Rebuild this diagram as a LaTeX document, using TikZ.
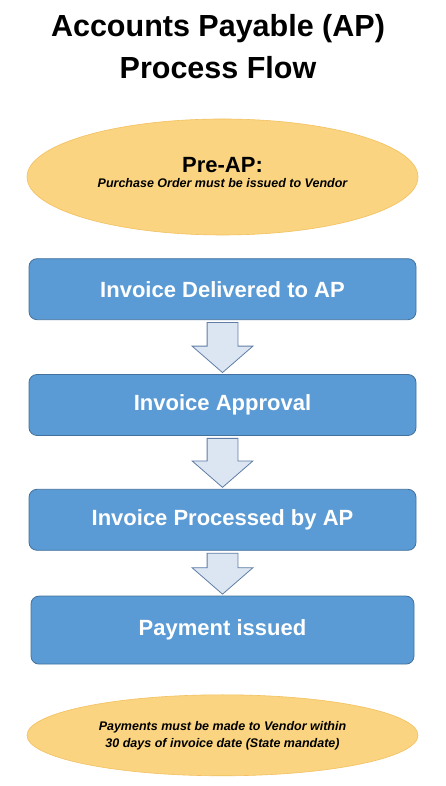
\documentclass[tikz,border=0pt]{standalone}
\usepackage{fontspec}
\setmainfont{Liberation Sans}
\usetikzlibrary{shapes.geometric, shapes.arrows, positioning, calc}
\usepackage{xcolor}

\definecolor{stepblue}{RGB}{91,155,213}
\definecolor{stepedge}{RGB}{65,113,156}
\definecolor{noteyellow}{RGB}{250,212,128}
\definecolor{noteedge}{RGB}{242,192,96}
\definecolor{arrowfill}{RGB}{220,230,242}
\definecolor{arrowedge}{RGB}{95,125,165}

\begin{document}
\begin{tikzpicture}[
    x=1pt, y=1pt,
    node distance=54pt,
    stepbox/.style={rectangle, draw=stepedge, fill=stepblue, text=white, line width=0.8pt, rounded corners=8pt, minimum width=387pt, minimum height=61pt, inner sep=0pt, font=\fontsize{22}{26}\selectfont\bfseries},
    note/.style={ellipse, draw=noteedge, fill=noteyellow, line width=0.6pt, minimum width=391pt, inner sep=0pt, align=center},
    downarrow/.style={single arrow, draw=arrowedge, fill=arrowfill, line width=0.8pt, shape border rotate=270, minimum width=60pt, single arrow head extend=15pt, single arrow tip angle=98, inner xsep=15pt, inner ysep=0pt, anchor=tip}
]
\useasboundingbox (0,0) rectangle (446,786);

\node[align=center, font=\fontsize{30.5}{42}\selectfont\bfseries] (title) at (218,739) {Accounts Payable (AP)\\Process Flow};

\node[note, minimum height=116pt] (pre) at (222.5,609) {{\fontsize{22}{24}\selectfont\bfseries Pre-AP:}\\[3pt]{\fontsize{12.5}{14}\selectfont\bfseries\itshape Purchase Order must be issued to Vendor\rule[-9pt]{0pt}{0pt}}};
\node[stepbox, below=23pt of pre] (delivered) {Invoice Delivered to AP};
\node[stepbox, below=of delivered] (approval) {Invoice Approval};
\node[stepbox, below=53pt of approval] (processed) {Invoice Processed by AP};
\node[stepbox, below=45pt of processed, minimum width=383pt, minimum height=68pt] (payment) {Payment issued};
\node[note, minimum height=81pt, below=30pt of payment, font=\fontsize{12.5}{17}\selectfont\bfseries\itshape] (post) {Payments must be made to Vendor within\\30 days of invoice date (State mandate)};

\node[downarrow, minimum height=50pt] (arr1) at ([yshift=1pt]approval.north) {};
\node[downarrow, minimum height=49pt] (arr2) at ([yshift=1pt]processed.north) {};
\node[downarrow, minimum height=41pt] (arr3) at ([yshift=1pt]payment.north) {};

\end{tikzpicture}
\end{document}
